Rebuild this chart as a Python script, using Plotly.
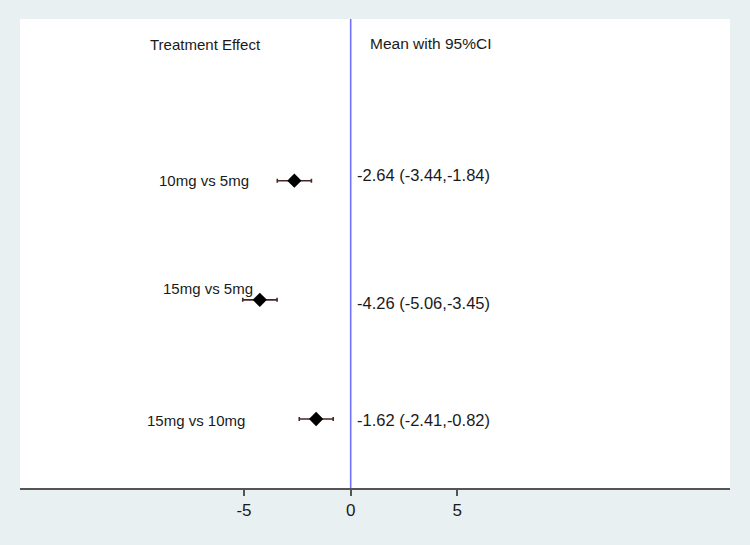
import plotly.graph_objects as go

# ---- data ----
comparisons = ["10mg vs 5mg", "15mg vs 5mg", "15mg vs 10mg"]
means = [-2.64, -4.26, -1.62]
lower = [-3.44, -5.06, -2.41]
upper = [-1.84, -3.45, -0.82]
ci_labels = ["-2.64 (-3.44,-1.84)", "-4.26 (-5.06,-3.45)", "-1.62 (-2.41,-0.82)"]
row_pos = [3, 2, 1]
tick_vals = [-5, 0, 5]
tick_text = ["-5", "0", "5"]
header_left = "Treatment Effect"
header_right = "Mean with 95%CI"

FONT = "Liberation Sans, Arial, Helvetica, sans-serif"
BG = "#e9f0f2"

fig = go.Figure()

fig.add_trace(go.Scatter(
    x=means, y=row_pos, mode="markers",
    marker=dict(symbol="diamond", size=11, color="black"),
    error_x=dict(type="data", symmetric=False,
                 array=[u - m for u, m in zip(upper, means)],
                 arrayminus=[m - l for m, l in zip(means, lower)],
                 color="#4a2626", thickness=1.6, width=2),
    showlegend=False, hoverinfo="skip",
))

# zero reference line
fig.add_shape(type="line", x0=0, x1=0, y0=0, y1=1, xref="x", yref="paper",
              line=dict(color="#7070ff", width=1.6), layer="above")

# left labels (x position in axis units, small vertical offsets)
left_x = [-9.08, -8.9, -9.62]
left_shift = [0, 11, -1]
for lab, y, lx, sh in zip(comparisons, row_pos, left_x, left_shift):
    fig.add_annotation(x=lx, y=y, text=lab, showarrow=False, xanchor="left",
                       yanchor="middle", yshift=sh,
                       font=dict(family=FONT, size=15, color="#1a1a1a"))

# right labels
right_shift = [6, -3, -1]
for lab, y, sh in zip(ci_labels, row_pos, right_shift):
    fig.add_annotation(x=0.2, y=y, text=lab, showarrow=False, xanchor="left",
                       yanchor="middle", yshift=sh,
                       font=dict(family=FONT, size=16.5, color="#1a1a1a"))

fig.add_annotation(x=-9.5, y=4.14, text=header_left, showarrow=False,
                   xanchor="left", yanchor="middle",
                   font=dict(family=FONT, size=15, color="#1a1a1a"))
fig.add_annotation(x=0.8, y=4.15, text=header_right, showarrow=False,
                   xanchor="left", yanchor="middle",
                   font=dict(family=FONT, size=15.5, color="#1a1a1a"))

fig.update_xaxes(range=[-15.5, 17.78], tickvals=tick_vals, ticktext=tick_text,
                 showgrid=False, zeroline=False, showline=True,
                 linecolor="#555555", linewidth=1.5,
                 ticks="outside", ticklen=6, tickwidth=1.5, tickcolor="#555555",
                 tickfont=dict(family=FONT, size=17, color="#1a1a1a"),
                 fixedrange=True)
fig.update_yaxes(range=[0.421, 4.357], showgrid=False, zeroline=False,
                 showticklabels=False, showline=False, fixedrange=True)

fig.update_layout(
    width=750, height=545,
    margin=dict(l=20, r=20, t=19, b=57),
    paper_bgcolor=BG, plot_bgcolor="white",
    showlegend=False,
)

fig.write_html("out.html",
               config={"displayModeBar": False},
               post_script="document.body.style.margin='0';"
                           "document.body.style.background='%s';"
                           "document.body.style.overflow='hidden';" % BG)
